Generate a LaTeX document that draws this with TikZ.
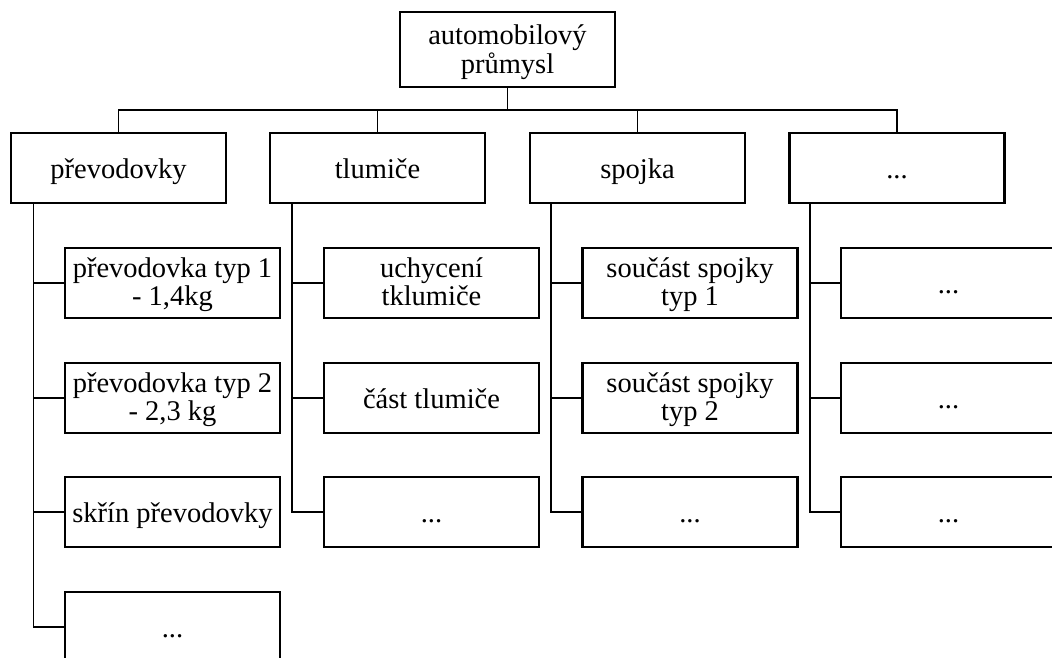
\documentclass[tikz,border=0pt]{standalone}
\usepackage{fontspec}
\setmainfont{Liberation Serif}
\begin{document}
\begin{tikzpicture}[x=1pt,y=-1pt,
  box/.style={draw, line width=2.1pt, rectangle, minimum width=215pt, minimum height=70pt, inner sep=0pt, align=center, text depth=3pt, font=\fontsize{28.5}{28.5}\selectfont},
  single/.style={box, text height=23pt},
  conn/.style={line width=1.7pt}]
\useasboundingbox (0,0) rectangle (1052,657);
\clip (0,0) rectangle (1052,657);
\node[box, minimum height=75pt, text depth=1pt] (root) at (507.5,49.5) {automobilový\\průmysl};
\coordinate (bar) at (0,110);
\node[single] (p1) at (118.5,168) {převodovky};
\node[single] (p2) at (377.5,168) {tlumiče};
\node[single] (p3) at (637.5,168) {spojka};
\node[single] (p4) at (897,168) {...};
% level 2
\node[box] (c11) at (172.5,283) {převodovka typ 1\\- 1,4kg};
\node[box] (c12) at (172.5,398) {převodovka typ 2\\- 2,3 kg};
\node[single] (c13) at (172.5,512) {skřín převodovky};
\node[single] (c14) at (172.5,627) {...};
\node[box] (c21) at (431.5,283) {uchycení\\tklumiče};
\node[single] (c22) at (431.5,398) {část tlumiče};
\node[single] (c23) at (431.5,512) {...};
\node[box] (c31) at (690,283) {součást spojky\\typ 1};
\node[box] (c32) at (690,398) {součást spojky\\typ 2};
\node[single] (c33) at (690,512) {...};
\node[single] (c41) at (948.5,283) {...};
\node[single] (c42) at (948.5,398) {...};
\node[single] (c43) at (948.5,512) {...};
% top connectors
\draw[conn] (root.south) -- (root.south |- bar);
\draw[conn] (p1.north) |- (p4.north |- bar) -- (p4.north);
\draw[conn] (p2.north) -- (p2.north |- bar);
\draw[conn] (p3.north) -- (p3.north |- bar);
% child connectors
\coordinate (v1) at (33.5,203);
\coordinate (v2) at (292,203);
\coordinate (v3) at (551,203);
\coordinate (v4) at (810,203);
\draw[conn] (v1) |- (c14.west);
\draw[conn] (v1 |- c11.west) -- (c11.west);
\draw[conn] (v1 |- c12.west) -- (c12.west);
\draw[conn] (v1 |- c13.west) -- (c13.west);
\draw[conn] (v2) |- (c23.west);
\draw[conn] (v2 |- c21.west) -- (c21.west);
\draw[conn] (v2 |- c22.west) -- (c22.west);
\draw[conn] (v3) |- (c33.west);
\draw[conn] (v3 |- c31.west) -- (c31.west);
\draw[conn] (v3 |- c32.west) -- (c32.west);
\draw[conn] (v4) |- (c43.west);
\draw[conn] (v4 |- c41.west) -- (c41.west);
\draw[conn] (v4 |- c42.west) -- (c42.west);
\end{tikzpicture}
\end{document}
